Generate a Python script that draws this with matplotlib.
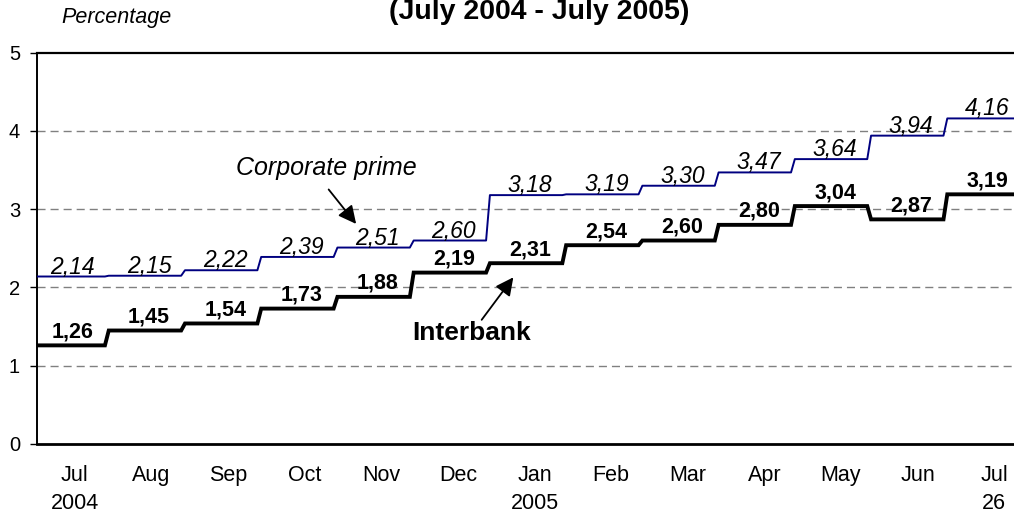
import numpy as np
import matplotlib
matplotlib.use("Agg")
import matplotlib.pyplot as plt

months = ["Jul", "Aug", "Sep", "Oct", "Nov", "Dec", "Jan", "Feb", "Mar", "Apr", "May", "Jun", "Jul"]
years = ["2004", "", "", "", "", "", "2005", "", "", "", "", "", "26"]
corporate = [2.14, 2.15, 2.22, 2.39, 2.51, 2.60, 3.18, 3.19, 3.30, 3.47, 3.64, 3.94, 4.16]
interbank = [1.26, 1.45, 1.54, 1.73, 1.88, 2.19, 2.31, 2.54, 2.60, 2.80, 3.04, 2.87, 3.19]

plt.rcParams['font.family'] = ['Liberation Sans', 'DejaVu Sans']

fig = plt.figure(figsize=(10.14, 5.15), dpi=100)
ax = fig.add_axes([0.0362, 0.1379, 0.9638, 0.7598])

x = np.arange(len(months))


def step_xy(vals, d=0.025):
    # monthly steps with slightly slanted risers
    xs, ys = [], []
    n = len(vals)
    for i, v in enumerate(vals):
        left = i - 0.5 if i == 0 else i - 0.5 + d
        right = i + 0.5 if i == n - 1 else i + 0.5 - d
        xs += [left, right]
        ys += [v, v]
    return xs, ys


# grid lines
for g in [1, 2, 3, 4]:
    ax.axhline(g, color='#808080', lw=1, ls=(0, (5.8, 3.6)), zorder=1)

cx, cy = step_xy(corporate)
ax.plot(cx, cy, color='#000080', lw=1.4, zorder=3)
bx, by = step_xy(interbank)
ax.plot(bx, by, color='black', lw=2.8, zorder=3, solid_joinstyle='miter')


def fmt(v):
    return ("%.2f" % v).replace(".", ",")


for i, v in enumerate(corporate):
    ax.annotate(fmt(v), xy=(x[i], v), xytext=(4, 3), textcoords='offset pixels',
                ha='center', va='baseline', fontsize=16.5, style='italic', zorder=4)
for i, v in enumerate(interbank):
    ax.annotate(fmt(v), xy=(x[i], v), xytext=(4, 8), textcoords='offset pixels',
                ha='center', va='baseline', fontsize=15.5, fontweight='bold', zorder=4)

# series annotations
ax.text(3.374, 3.525, "Corporate prime", ha='center', va='center', fontsize=18, style='italic')
ax.annotate("", xy=(3.793, 2.784), xytext=(3.387, 3.28),
            arrowprops=dict(arrowstyle='-|>,head_length=0.9,head_width=0.45',
                            mutation_scale=12, color='black', lw=1.3))
ax.text(5.29, 1.418, "Interbank", ha='center', va='center', fontsize=19, fontweight='bold')
ax.annotate("", xy=(5.854, 2.158), xytext=(5.395, 1.558),
            arrowprops=dict(arrowstyle='-|>,head_length=0.9,head_width=0.45',
                            mutation_scale=12, color='black', lw=1.3))

ax.set_xlim(-0.42, 12.40)
ax.set_ylim(0, 5)
ax.set_yticks([0, 1, 2, 3, 4, 5])
ax.set_xticks(6.11 + 1.005 * (x - 6))
ax.set_xticklabels([m + "\n" + y for m, y in zip(months, years)], linespacing=1.42)
ax.tick_params(axis='x', length=0, pad=15, labelsize=15.5)
ax.tick_params(axis='y', length=5, width=1, pad=7, labelsize=14.5)

ax.spines['right'].set_visible(False)
ax.spines['top'].set_linewidth(1.6)
ax.spines['left'].set_linewidth(1.4)
ax.spines['bottom'].set_linewidth(2)

fig.text(539 / 1014, 1 - 12 / 515, "(July 2004 - July 2005)", ha='center', va='center',
         fontsize=20.5, fontweight='bold')
fig.text(116 / 1014, 1 - 17 / 515, "Percentage", ha='center', va='center',
         fontsize=15.5, style='italic')

fig.savefig("out.png", dpi=100)
